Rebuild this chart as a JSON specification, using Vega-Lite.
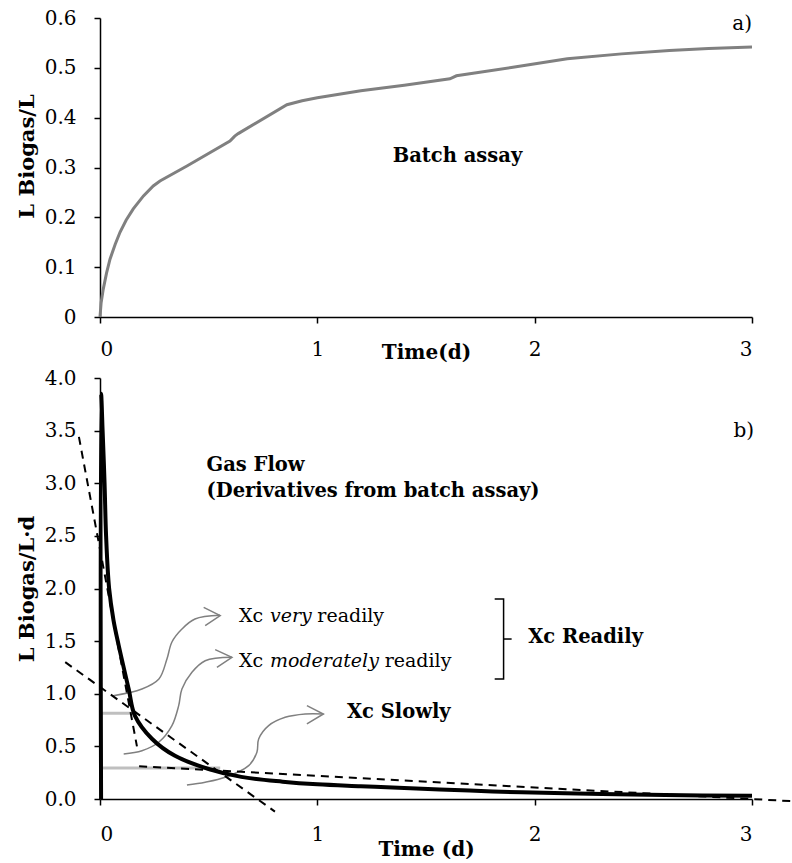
{
  "$schema": "https://vega.github.io/schema/vega-lite/v6.json",
  "background": "white",
  "padding": {"left": 15, "top": 8, "right": 0, "bottom": 0},
  "spacing": 6,
  "config": {
    "view": {"stroke": null},
    "font": "DejaVu Serif",
    "axis": {
      "grid": false,
      "domainColor": "black",
      "domainWidth": 1.5,
      "tickColor": "black",
      "tickWidth": 1.5,
      "tickSize": 6,
      "labelFont": "DejaVu Serif",
      "labelFontSize": 20,
      "labelColor": "black",
      "titleFont": "DejaVu Serif",
      "titleFontSize": 20,
      "titleFontWeight": "bold",
      "titleColor": "black"
    },
    "text": {"font": "DejaVu Serif", "fontSize": 19, "color": "black", "baseline": "middle"}
  },
  "datasets": {
    "batch": [
      {"t": 0, "v": 0}, {"t": 0.005, "v": 0.028}, {"t": 0.015, "v": 0.056}, {"t": 0.03, "v": 0.088},
      {"t": 0.046, "v": 0.116}, {"t": 0.07, "v": 0.146}, {"t": 0.092, "v": 0.17}, {"t": 0.12, "v": 0.194},
      {"t": 0.153, "v": 0.217}, {"t": 0.2, "v": 0.243}, {"t": 0.245, "v": 0.263}, {"t": 0.276, "v": 0.273},
      {"t": 0.4, "v": 0.303}, {"t": 0.598, "v": 0.353}, {"t": 0.62, "v": 0.363}, {"t": 0.636, "v": 0.368},
      {"t": 0.86, "v": 0.426}, {"t": 0.93, "v": 0.434}, {"t": 1.0, "v": 0.44}, {"t": 1.2, "v": 0.454},
      {"t": 1.4, "v": 0.465}, {"t": 1.61, "v": 0.478}, {"t": 1.64, "v": 0.484}, {"t": 1.9, "v": 0.501},
      {"t": 2.15, "v": 0.518}, {"t": 2.4, "v": 0.528}, {"t": 2.62, "v": 0.535}, {"t": 2.8, "v": 0.539},
      {"t": 3.0, "v": 0.542}
    ],
    "flow": [
      {"i": 0, "t": 0.005, "v": 0}, {"i": 1, "t": 0.005, "v": 3.85}, {"i": 2, "t": 0.012, "v": 3.5},
      {"i": 3, "t": 0.021, "v": 3.0}, {"i": 4, "t": 0.028, "v": 2.5}, {"i": 5, "t": 0.042, "v": 2.0},
      {"i": 6, "t": 0.062, "v": 1.7}, {"i": 7, "t": 0.086, "v": 1.46}, {"i": 8, "t": 0.132, "v": 1.045},
      {"i": 9, "t": 0.161, "v": 0.79}, {"i": 10, "t": 0.24, "v": 0.57}, {"i": 11, "t": 0.345, "v": 0.41},
      {"i": 12, "t": 0.5, "v": 0.285}, {"i": 13, "t": 0.65, "v": 0.21}, {"i": 14, "t": 0.84, "v": 0.165},
      {"i": 15, "t": 1.0, "v": 0.14}, {"i": 16, "t": 1.2, "v": 0.122}, {"i": 17, "t": 1.4, "v": 0.105},
      {"i": 18, "t": 1.7, "v": 0.08}, {"i": 19, "t": 1.94, "v": 0.063}, {"i": 20, "t": 2.31, "v": 0.047},
      {"i": 21, "t": 2.6, "v": 0.038}, {"i": 22, "t": 3.0, "v": 0.03}
    ],
    "tangents": [
      {"id": "steep", "t": -0.097, "v": 3.44}, {"id": "steep", "t": 0.17, "v": 0.5},
      {"id": "mid", "t": -0.16, "v": 1.3}, {"id": "mid", "t": 0.805, "v": -0.12},
      {"id": "slow", "t": 0.18, "v": 0.31}, {"id": "slow", "t": 3.18, "v": -0.02}
    ],
    "levels": [
      {"id": "a", "t": 0, "v": 0.814}, {"id": "a", "t": 0.169, "v": 0.814},
      {"id": "b", "t": 0, "v": 0.295}, {"id": "b", "t": 0.553, "v": 0.295}
    ],
    "arrows": [
      {"id": "a1", "i": 0, "t": 0.055, "v": 0.979}, {"id": "a1", "i": 1, "t": 0.193, "v": 1.045},
      {"id": "a1", "i": 2, "t": 0.271, "v": 1.14}, {"id": "a1", "i": 3, "t": 0.308, "v": 1.33},
      {"id": "a1", "i": 4, "t": 0.331, "v": 1.492}, {"id": "a1", "i": 5, "t": 0.377, "v": 1.615},
      {"id": "a1", "i": 6, "t": 0.437, "v": 1.71}, {"id": "a1", "i": 7, "t": 0.552, "v": 1.745},
      {"id": "a2", "i": 0, "t": 0.109, "v": 0.428}, {"id": "a2", "i": 1, "t": 0.193, "v": 0.459},
      {"id": "a2", "i": 2, "t": 0.27, "v": 0.539}, {"id": "a2", "i": 3, "t": 0.331, "v": 0.697},
      {"id": "a2", "i": 4, "t": 0.362, "v": 0.887}, {"id": "a2", "i": 5, "t": 0.377, "v": 1.045},
      {"id": "a2", "i": 6, "t": 0.423, "v": 1.204}, {"id": "a2", "i": 7, "t": 0.484, "v": 1.314},
      {"id": "a2", "i": 8, "t": 0.607, "v": 1.346},
      {"id": "a3", "i": 0, "t": 0.4, "v": 0.133}, {"id": "a3", "i": 1, "t": 0.484, "v": 0.159},
      {"id": "a3", "i": 2, "t": 0.576, "v": 0.206}, {"id": "a3", "i": 3, "t": 0.684, "v": 0.317},
      {"id": "a3", "i": 4, "t": 0.722, "v": 0.444}, {"id": "a3", "i": 5, "t": 0.73, "v": 0.57},
      {"id": "a3", "i": 6, "t": 0.776, "v": 0.697}, {"id": "a3", "i": 7, "t": 0.852, "v": 0.776},
      {"id": "a3", "i": 8, "t": 0.944, "v": 0.808}, {"id": "a3", "i": 9, "t": 1.028, "v": 0.808}
    ],
    "heads": [
      {"id": "h1", "i": 0, "t": 0.477, "v": 1.821}, {"id": "h1", "i": 1, "t": 0.553, "v": 1.742}, {"id": "h1", "i": 2, "t": 0.484, "v": 1.647},
      {"id": "h2", "i": 0, "t": 0.53, "v": 1.419}, {"id": "h2", "i": 1, "t": 0.607, "v": 1.346}, {"id": "h2", "i": 2, "t": 0.538, "v": 1.251},
      {"id": "h3", "i": 0, "t": 0.952, "v": 0.887}, {"id": "h3", "i": 1, "t": 1.028, "v": 0.808}, {"id": "h3", "i": 2, "t": 0.952, "v": 0.713}
    ],
    "bracket": [
      {"id": "br", "i": 0, "t": 1.816, "v": 1.9}, {"id": "br", "i": 1, "t": 1.857, "v": 1.9},
      {"id": "br", "i": 2, "t": 1.857, "v": 1.14}, {"id": "br", "i": 3, "t": 1.816, "v": 1.14},
      {"id": "tk", "i": 0, "t": 1.857, "v": 1.52}, {"id": "tk", "i": 1, "t": 1.894, "v": 1.52}
    ],
    "notesA": [
      {"kind": "corner", "t": 3.0, "v": 0.588, "label": "a)"},
      {"kind": "bold", "t": 1.347, "v": 0.323, "label": "Batch assay"}
    ],
    "notesB": [
      {"kind": "corner", "t": 3.01, "v": 3.5, "label": "b)"},
      {"kind": "bold", "t": 0.49, "v": 3.17, "label": "Gas Flow"},
      {"kind": "bold", "t": 0.49, "v": 2.93, "label": "(Derivatives from batch assay)"},
      {"kind": "regular", "t": 0.64, "v": 1.74, "label": "Xc"},
      {"kind": "italic", "t": 0.782, "v": 1.74, "label": "very"},
      {"kind": "regular", "t": 1.0, "v": 1.74, "label": "readily"},
      {"kind": "regular", "t": 0.64, "v": 1.311, "label": "Xc"},
      {"kind": "italic", "t": 0.782, "v": 1.311, "label": "moderately"},
      {"kind": "regular", "t": 1.31, "v": 1.311, "label": "readily"},
      {"kind": "bold", "t": 1.97, "v": 1.54, "label": "Xc Readily"},
      {"kind": "bold", "t": 1.136, "v": 0.83, "label": "Xc Slowly"}
    ]
  },
  "vconcat": [
    {
      "width": 652,
      "height": 299,
      "encoding": {
        "x": {
          "field": "t", "type": "quantitative",
          "scale": {"domain": [0, 3], "nice": false},
          "axis": {"values": [0, 1, 2, 3], "format": "d", "labelPadding": 16, "title": "Time(d)", "titleY": 35, "titleBaseline": "middle"}
        },
        "y": {
          "field": "v", "type": "quantitative",
          "scale": {"domain": [0, 0.6], "nice": false},
          "axis": {"values": [0, 0.1, 0.2, 0.3, 0.4, 0.5, 0.6], "labelExpr": "datum.value == 0 ? '0' : format(datum.value, '.1f')", "labelPadding": 18, "title": "L Biogas/L", "titleFontSize": 21, "titleX": -73, "titleY": 138, "titleBaseline": "middle"}
        }
      },
      "layer": [
        {"data": {"name": "batch"}, "mark": {"type": "line", "color": "#808080", "strokeWidth": 3}},
        {"data": {"name": "notesA"}, "transform": [{"filter": "datum.kind == 'corner'"}], "mark": {"type": "text", "align": "right", "fontSize": 20}, "encoding": {"text": {"field": "label"}}},
        {"data": {"name": "notesA"}, "transform": [{"filter": "datum.kind == 'bold'"}], "mark": {"type": "text", "align": "left", "fontWeight": "bold", "fontSize": 19.5}, "encoding": {"text": {"field": "label"}}}
      ]
    },
    {
      "width": 652,
      "height": 421,
      "encoding": {
        "x": {
          "field": "t", "type": "quantitative",
          "scale": {"domain": [0, 3], "nice": false},
          "axis": {"values": [0, 1, 2, 3], "format": "d", "labelPadding": 19, "title": "Time (d)", "titleY": 50, "titleBaseline": "middle"}
        },
        "y": {
          "field": "v", "type": "quantitative",
          "scale": {"domain": [0, 4], "nice": false},
          "axis": {"values": [0, 0.5, 1, 1.5, 2, 2.5, 3, 3.5, 4], "format": ".1f", "labelPadding": 18, "title": "L Biogas/L·d", "titleFontSize": 21, "titleX": -73, "titleBaseline": "middle"}
        }
      },
      "layer": [
        {"data": {"name": "levels"}, "mark": {"type": "line", "color": "#bfbfbf", "strokeWidth": 3}, "encoding": {"detail": {"field": "id"}}},
        {"data": {"name": "arrows"}, "mark": {"type": "line", "color": "#808080", "strokeWidth": 1.5, "interpolate": "catmull-rom"}, "encoding": {"detail": {"field": "id"}, "order": {"field": "i"}}},
        {"data": {"name": "heads"}, "mark": {"type": "line", "color": "#808080", "strokeWidth": 1.5}, "encoding": {"detail": {"field": "id"}, "order": {"field": "i"}}},
        {"data": {"name": "flow"}, "mark": {"type": "line", "color": "black", "strokeWidth": 4, "interpolate": "catmull-rom"}, "encoding": {"order": {"field": "i"}}},
        {"data": {"name": "tangents"}, "mark": {"type": "line", "color": "black", "strokeWidth": 2, "strokeDash": [8, 6]}, "encoding": {"detail": {"field": "id"}}},
        {"data": {"name": "bracket"}, "mark": {"type": "line", "color": "black", "strokeWidth": 1.5}, "encoding": {"detail": {"field": "id"}, "order": {"field": "i"}}},
        {"data": {"name": "notesB"}, "transform": [{"filter": "datum.kind == 'corner'"}], "mark": {"type": "text", "align": "right", "fontSize": 20}, "encoding": {"text": {"field": "label"}}},
        {"data": {"name": "notesB"}, "transform": [{"filter": "datum.kind == 'bold'"}], "mark": {"type": "text", "align": "left", "fontWeight": "bold", "fontSize": 19.5}, "encoding": {"text": {"field": "label"}}},
        {"data": {"name": "notesB"}, "transform": [{"filter": "datum.kind == 'regular'"}], "mark": {"type": "text", "align": "left"}, "encoding": {"text": {"field": "label"}}},
        {"data": {"name": "notesB"}, "transform": [{"filter": "datum.kind == 'italic'"}], "mark": {"type": "text", "align": "left", "fontStyle": "italic"}, "encoding": {"text": {"field": "label"}}}
      ]
    }
  ]
}
